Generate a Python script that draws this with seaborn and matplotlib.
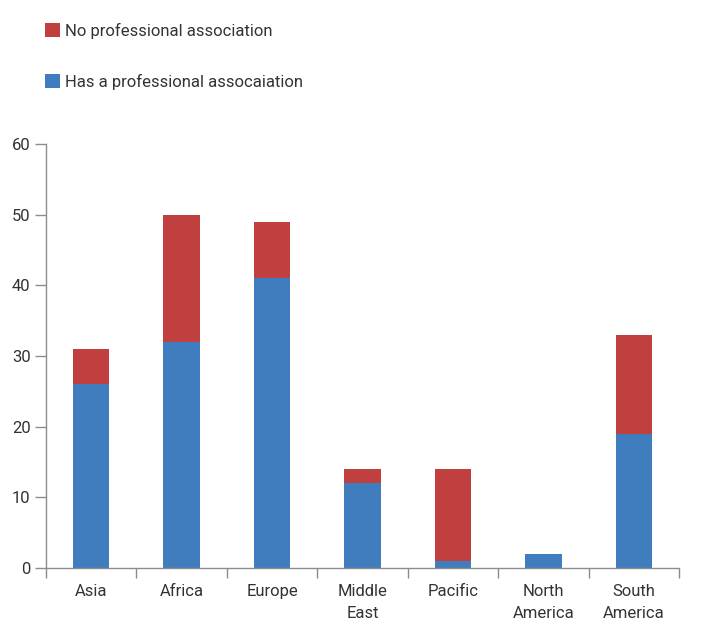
import matplotlib

matplotlib.use("Agg")

import matplotlib.pyplot as plt  # noqa: E402
import pandas as pd  # noqa: E402
import seaborn as sns  # noqa: E402

regions = ["Asia", "Africa", "Europe", "Middle\nEast", "Pacific", "North\nAmerica", "South\nAmerica"]
has_assoc = [26, 32, 41, 12, 1, 2, 19]
no_assoc = [5, 18, 8, 2, 13, 0, 14]
y_ticks = [0, 10, 20, 30, 40, 50, 60]

BLUE = "#407DBE"
RED = "#BF403E"
GREY = "#8C8C8C"
TEXT = "#333333"

df = pd.DataFrame({"region": regions, "has": has_assoc, "no": no_assoc})
df["total"] = df["has"] + df["no"]

sns.set_theme(style="white")
plt.rcParams["font.family"] = ["Liberation Sans Narrow", "Roboto", "DejaVu Sans"]

fig = plt.figure(figsize=(7.06, 6.38), dpi=100)
ax = fig.add_axes([0.065, 0.110, 0.897, 0.664])

# stacked: draw totals in red, then the blue part over it
sns.barplot(data=df, x="region", y="total", color=RED, width=0.4, saturation=1,
            linewidth=0, label="No professional association", ax=ax)
sns.barplot(data=df, x="region", y="has", color=BLUE, width=0.4, saturation=1,
            linewidth=0, label="Has a professional assocaiation", ax=ax)
handles, labels = ax.get_legend_handles_labels()
if ax.get_legend() is not None:
    ax.get_legend().remove()

ax.set_xlim(-0.5, len(regions) - 0.5)
ax.set_ylim(0, 60)
ax.set_yticks(y_ticks)
ax.set_xlabel("")
ax.set_ylabel("")

for side in ("top", "right"):
    ax.spines[side].set_visible(False)
for side in ("left", "bottom"):
    ax.spines[side].set_color(GREY)
    ax.spines[side].set_linewidth(1.0)

ax.set_xticks([i - 0.5 for i in range(len(regions) + 1)], minor=True)
ax.tick_params(axis="x", which="major", length=0, pad=12, labelsize=12, labelcolor=TEXT)
ax.tick_params(axis="x", which="minor", length=7, width=1, color=GREY, direction="out", bottom=True)
ax.tick_params(axis="y", length=8, width=1, color=GREY, direction="out", left=True,
               labelsize=12, labelcolor=TEXT, pad=3)
for lab in ax.get_xticklabels():
    lab.set_linespacing(1.55)

fig.legend(handles, labels, loc="upper left", bbox_to_anchor=(0.043, 0.988),
           frameon=False, fontsize=12, handlelength=0.9, handleheight=0.9,
           handletextpad=0.25, labelspacing=2.1, labelcolor=TEXT)

fig.savefig("out.png", dpi=100)
